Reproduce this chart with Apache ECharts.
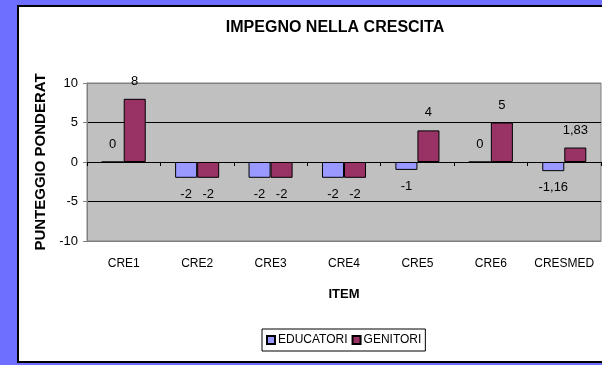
<!DOCTYPE html>
<html>
<head>
<meta charset="utf-8">
<title>Impegno nella crescita</title>
<script src="https://cdn.jsdelivr.net/npm/echarts@6/dist/echarts.min.js"></script>
<style>
  html, body { margin: 0; padding: 0; background: #6F6FFF; }
  #chart { width: 602px; height: 365px; }
</style>
</head>
<body>
<div id="chart"></div>
<script>
// Items on the horizontal axis
const categories = ['CRE1', 'CRE2', 'CRE3', 'CRE4', 'CRE5', 'CRE6', 'CRESMED'];
// Weighted scores per group
const educatori = [0, -2, -2, -2, -1, 0, -1.16];
const genitori = [8, -2, -2, -2, 4, 5, 1.83];
// Value axis ticks
const yTicks = [-10, -5, 0, 5, 10];

const FONT = '"Liberation Sans", Arial, sans-serif';

// Italian decimal comma for the value labels
function fmt(v) {
  return String(v).replace('.', ',');
}

// Labels above positive bars, below negative ones
function withLabels(values) {
  return values.map(function (v) {
    return {
      value: v,
      label: v < 0 ? { position: 'bottom', distance: 10 } : { position: 'top', distance: 11 }
    };
  });
}

const chart = echarts.init(document.getElementById('chart'), null, { renderer: 'canvas' });

const barLabel = {
  show: true,
  color: '#000',
  fontFamily: FONT,
  fontSize: 13,
  formatter: function (p) { return fmt(p.value); }
};

chart.setOption({
  backgroundColor: '#6F6FFF',
  animation: false,
  graphic: [{
    type: 'rect',
    z: -10,
    shape: { x: 18, y: 6, width: 600, height: 356 },
    style: { fill: '#FFFFFF', stroke: '#000000', lineWidth: 2 }
  }],
  title: {
    text: 'IMPEGNO NELLA CRESCITA',
    left: 330,
    top: 15,
    textAlign: 'center',
    textStyle: { fontFamily: FONT, fontSize: 16, fontWeight: 'bold', color: '#000' }
  },
  legend: {
    data: ['EDUCATORI', 'GENITORI'],
    left: 262,
    top: 329,
    orient: 'horizontal',
    backgroundColor: '#FFFFFF',
    borderColor: '#000000',
    borderWidth: 1,
    borderRadius: 0,
    padding: [5, 4, 5, 4],
    itemWidth: 8,
    itemHeight: 8,
    itemGap: 4,
    icon: 'rect',
    textStyle: { fontFamily: FONT, fontSize: 12, color: '#000', padding: [0, 0, 0, -2] }
  },
  grid: {
    left: 87,
    right: 1,
    top: 83,
    bottom: 124,
    show: true,
    backgroundColor: '#C0C0C0',
    borderColor: '#808080',
    borderWidth: 1
  },
  xAxis: [{
    type: 'category',
    data: categories,
    position: 'bottom',
    name: 'ITEM',
    nameLocation: 'middle',
    nameGap: 47,
    nameTextStyle: { fontFamily: FONT, fontSize: 13, fontWeight: 'bold', color: '#000' },
    axisLine: { onZero: false, lineStyle: { color: '#808080', width: 1 } },
    axisTick: { show: false },
    axisLabel: { margin: 17, fontFamily: FONT, fontSize: 12, color: '#000', interval: 0 },
    splitLine: { show: false }
  }, {
    // zero line with category-boundary ticks
    type: 'category',
    data: categories,
    position: 'bottom',
    axisLine: { onZero: true, onZeroAxisIndex: 0, lineStyle: { color: '#000000', width: 1 } },
    axisTick: { show: true, length: 4, interval: 0, lineStyle: { color: '#000000' } },
    axisLabel: { show: false },
    splitLine: { show: false }
  }],
  yAxis: {
    type: 'value',
    min: yTicks[0],
    max: yTicks[yTicks.length - 1],
    interval: 5,
    name: 'PUNTEGGIO PONDERAT',
    nameLocation: 'middle',
    nameRotate: 90,
    nameGap: 30,
    nameTextStyle: { fontFamily: FONT, fontSize: 15, fontWeight: 'bold', color: '#000' },
    axisLine: { show: true, lineStyle: { color: '#808080' } },
    axisTick: { show: true, length: 4, lineStyle: { color: '#808080' } },
    axisLabel: { margin: 9, fontFamily: FONT, fontSize: 13, color: '#000' },
    splitLine: {
      show: true,
      lineStyle: { color: ['#808080', '#000000', '#000000', '#000000', '#808080'], width: 1 }
    }
  },
  series: [{
    name: 'EDUCATORI',
    type: 'bar',
    xAxisIndex: 0,
    data: withLabels(educatori),
    barGap: '0%',
    barCategoryGap: '40%',
    itemStyle: { color: '#9999FF', borderColor: '#000000', borderWidth: 1 },
    label: barLabel
  }, {
    name: 'GENITORI',
    type: 'bar',
    xAxisIndex: 0,
    data: withLabels(genitori),
    barGap: '0%',
    barCategoryGap: '40%',
    itemStyle: { color: '#993366', borderColor: '#000000', borderWidth: 1 },
    label: barLabel
  }]
});
</script>
</body>
</html>
